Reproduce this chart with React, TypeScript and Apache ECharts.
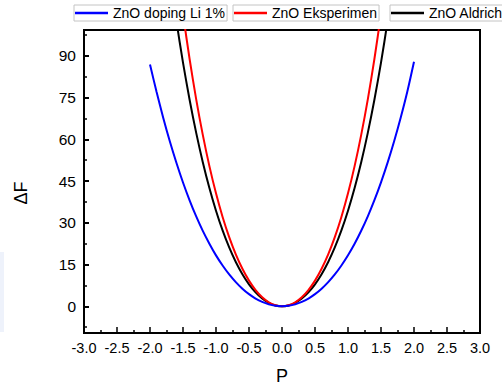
import React, { useEffect, useRef } from "react";
import * as echarts from "echarts";

const P_BLUE = [-2.0, -1.9, -1.8, -1.7, -1.6, -1.5, -1.4, -1.3, -1.2, -1.1, -1.0, -0.9, -0.8, -0.7, -0.6, -0.5, -0.4, -0.3, -0.2, -0.1, 0.0, 0.1, 0.2, 0.3, 0.4, 0.5, 0.6, 0.7, 0.8, 0.9, 1.0, 1.1, 1.2, 1.3, 1.4, 1.5, 1.6, 1.7, 1.8, 1.9, 2.0];
const F_BLUE = [86.9, 77.0, 67.8, 59.3, 51.6, 44.5, 38.1, 32.3, 27.1, 22.5, 18.3, 14.66, 11.45, 8.69, 6.32, 4.36, 2.78, 1.56, 0.69, 0.17, 0, 0.17, 0.69, 1.56, 2.78, 4.36, 6.32, 8.69, 11.45, 14.66, 18.32, 22.47, 27.13, 32.33, 38.13, 44.55, 51.63, 59.42, 67.96, 77.31, 87.9];

const P_RB = [-1.7, -1.6, -1.5, -1.4, -1.3, -1.2, -1.1, -1.0, -0.9, -0.8, -0.7, -0.6, -0.5, -0.4, -0.3, -0.2, -0.1, 0.0, 0.1, 0.2, 0.3, 0.4, 0.5, 0.6, 0.7, 0.8, 0.9, 1.0, 1.1, 1.2, 1.3, 1.4, 1.5, 1.6, 1.7];
const F_RED = [144.4, 123.7, 105.25, 88.87, 74.37, 61.59, 50.37, 40.59, 32.12, 24.84, 18.65, 13.47, 9.22, 5.83, 3.25, 1.44, 0.36, 0, 0.36, 1.44, 3.25, 5.83, 9.22, 13.47, 18.65, 24.84, 32.12, 40.59, 50.37, 61.59, 74.37, 88.87, 105.25, 123.7, 144.4];
const F_BLACK = [119.3, 102.57, 87.6, 74.22, 62.33, 51.79, 42.5, 34.35, 27.26, 21.15, 15.92, 11.52, 7.9, 5.01, 2.79, 1.24, 0.31, 0, 0.31, 1.24, 2.79, 5.01, 7.9, 11.52, 15.92, 21.15, 27.26, 34.35, 42.5, 51.79, 62.33, 74.22, 87.6, 102.57, 119.3];

const NAMES = ["ZnO doping Li 1%", "ZnO Eksperimen", "ZnO Aldrich"];
const COLORS = ["#0000ff", "#ff0000", "#000000"];
const Y_MAJOR = [0, 15, 30, 45, 60, 75, 90];
const Y_MINOR = [-7.5, 7.5, 22.5, 37.5, 52.5, 67.5, 82.5, 97.5];

const FONT = "'Liberation Sans', Arial, sans-serif";

function zip(xs: number[], ys: number[]) {
  return xs.map((x, i) => [x, ys[i]]);
}

export default function App() {
  const ref = useRef<HTMLDivElement>(null);
  useEffect(() => {
    const chart = echarts.init(ref.current!, undefined, { renderer: "svg" });
    const legendLefts = [74, 233, 390];
    const seriesData = [zip(P_BLUE, F_BLUE), zip(P_RB, F_RED), zip(P_RB, F_BLACK)];
    const yBase = {
      type: "value",
      min: -9.6,
      max: 99.3,
      splitLine: { show: false },
    };
    chart.setOption({
      animation: false,
      backgroundColor: "#ffffff",
      grid: {
        left: 84,
        right: 22,
        top: 30,
        bottom: 55,
        show: true,
        borderColor: "#000",
        borderWidth: 2,
      },
      legend: NAMES.map((n, i) => ({
        data: [n],
        left: legendLefts[i],
        top: 5,
        padding: [1, 2, 1, 1],
        borderColor: "#c4c4c4",
        borderWidth: 1,
        icon: "rect",
        itemWidth: 33,
        itemHeight: 2.5,
        textStyle: { fontSize: 14, color: "#000", fontFamily: FONT },
        selectedMode: false,
      })),
      xAxis: {
        type: "value",
        min: -3,
        max: 3,
        interval: 0.5,
        name: "P",
        nameLocation: "middle",
        nameGap: 34,
        nameTextStyle: { fontSize: 18, color: "#000", fontFamily: FONT },
        axisLine: { show: true, onZero: false, lineStyle: { color: "#000", width: 2 } },
        axisTick: { show: true, inside: true, length: 6, lineStyle: { color: "#000", width: 1.5 } },
        minorTick: { show: true, splitNumber: 2, length: 3, lineStyle: { color: "#000", width: 1.5 } },
        splitLine: { show: false },
        axisLabel: {
          fontSize: 14.5,
          color: "#000",
          fontFamily: FONT,
          margin: 7,
          formatter: (v: number) => v.toFixed(1),
        },
      },
      yAxis: [
        {
          ...yBase,
          position: "left",
          axisLine: { show: true, onZero: false, lineStyle: { color: "#000", width: 2 } },
          axisTick: { show: true, inside: true, length: 5, customValues: Y_MAJOR, lineStyle: { color: "#000", width: 2 } },
          axisLabel: { show: true, customValues: Y_MAJOR, fontSize: 15.5, color: "#000", fontFamily: FONT, margin: 8 },
        },
        {
          ...yBase,
          position: "left",
          axisLine: { show: false, onZero: false },
          axisTick: { show: true, inside: true, length: 3, customValues: Y_MINOR, lineStyle: { color: "#000", width: 1.5 } },
          axisLabel: { show: false },
        },
      ],
      graphic: [
        { type: "rect", shape: { x: 0, y: 252, width: 4, height: 80 }, style: { fill: "#eef2fb" } },
        {
          type: "text",
          x: 21,
          y: 193,
          rotation: Math.PI / 2,
          style: { text: "ΔF", font: `18px ${FONT}`, fill: "#000", align: "center", verticalAlign: "middle" },
        },
      ],
      series: NAMES.map((n, i) => ({
        name: n,
        type: "line",
        data: seriesData[i],
        smooth: 0.3,
        symbol: "none",
        clip: true,
        lineStyle: { color: COLORS[i], width: 2 },
        itemStyle: { color: COLORS[i] },
        z: 3 - i,
      })),
    });
    return () => chart.dispose();
  }, []);
  return <div ref={ref} style={{ position: "fixed", left: 0, top: 0, width: 502, height: 390 }} />;
}
